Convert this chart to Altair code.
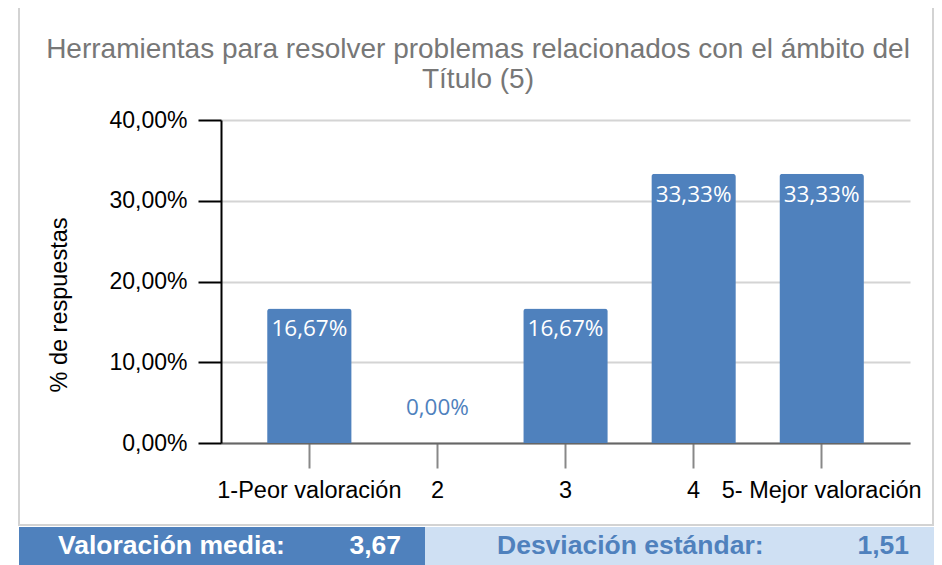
import altair as alt
import pandas as pd

# ---- data ----
categories = ["1-Peor valoración", "2", "3", "4", "5- Mejor valoración"]
values = [0.1667, 0.0, 0.1667, 0.3333, 0.3333]
title_lines = ["Herramientas para resolver problemas relacionados con el ámbito del", "Título (5)"]
y_title = "% de respuestas"
footer_names = ["Valoración media:", "Desviación estándar:"]
footer_values = ["3,67", "1,51"]

BLUE = "#4f81bd"
LIGHT = "#cfe0f3"
FONT = "Liberation Sans"
LABEL_FONT = "Open Sans"

labels = [f"{v*100:.2f}".replace(".", ",") + "%" for v in values]
df = pd.DataFrame({"cat": categories, "val": values, "label": labels})

PW, PH = 689, 323
OX, OY = 221, 120  # plot origin in page coords (incl. 8px margin)


def px(x):
    return x - OX


def py(y):
    return y - OY


one = pd.DataFrame({"k": [0]})

x_enc = alt.X(
    "cat:N",
    sort=categories,
    title=None,
    scale=alt.Scale(paddingInner=0.34, paddingOuter=0.36),
    axis=alt.Axis(
        labelAngle=0,
        labelFont=FONT,
        labelFontSize=23.5,
        labelColor="#000000",
        labelPadding=10,
        labelLimit=400,
        tickSize=25,
        tickColor="#888888",
        tickWidth=2,
        domainColor="#666666",
        domainWidth=2,
        grid=False,
        labelOverlap=False,
    ),
)
y_enc = alt.Y(
    "val:Q",
    title=None,
    scale=alt.Scale(domain=[0, 0.4], nice=False),
    axis=alt.Axis(
        values=[0, 0.1, 0.2, 0.3, 0.4],
        labelExpr="replace(format(datum.value, '.2%'), '.', ',')",
        labelFont=FONT,
        labelFontSize=23,
        labelColor="#000000",
        labelPadding=11,
        tickSize=23,
        tickColor="#000000",
        tickWidth=2,
        domainColor="#000000",
        domainWidth=2,
        gridColor="#d4d4d4",
        gridWidth=2,
    ),
)

base = alt.Chart(df)
bars = base.mark_bar(color=BLUE, cornerRadiusTopLeft=3, cornerRadiusTopRight=3).encode(x=x_enc, y=y_enc)
in_labels = base.transform_filter("datum.val > 0").mark_text(
    color="white", font=LABEL_FONT, fontSize=22.5, baseline="alphabetic", dy=28
).encode(x=alt.X("cat:N", sort=categories), y="val:Q", text="label:N")
zero_labels = base.transform_filter("datum.val == 0").mark_text(
    color=BLUE, font=LABEL_FONT, fontSize=22.5, baseline="alphabetic", dy=-28
).encode(x=alt.X("cat:N", sort=categories), y="val:Q", text="label:N")

frame = alt.Chart(one).mark_rect(fill=None, stroke="#d3d3d3", strokeWidth=2).encode(
    x=alt.value(px(19)), x2=alt.value(px(933)), y=alt.value(py(6)), y2=alt.value(py(525))
)
foot_dark = alt.Chart(one).mark_rect(fill=BLUE).encode(
    x=alt.value(px(19)), x2=alt.value(px(425)), y=alt.value(py(527)), y2=alt.value(py(570))
)
foot_light = alt.Chart(one).mark_rect(fill=LIGHT).encode(
    x=alt.value(px(425)), x2=alt.value(px(940)), y=alt.value(py(527)), y2=alt.value(py(570))
)

title = alt.Chart(one).mark_text(
    text="\n".join(title_lines), lineBreak="\n", lineHeight=30, font=FONT, fontSize=28,
    color="#777777", align="center", baseline="alphabetic"
).encode(x=alt.value(px(478)), y=alt.value(py(58)))

ytitle = alt.Chart(one).mark_text(
    text=y_title, font=FONT, fontSize=23.5, color="#000000", angle=270, align="center", baseline="middle"
).encode(x=alt.value(px(60)), y=alt.value(py(305)))

foot_style = dict(font=FONT, fontSize=26.5, fontWeight="bold", baseline="middle")
f1 = alt.Chart(one).mark_text(text=footer_names[0], color="white", align="left", **foot_style).encode(
    x=alt.value(px(58)), y=alt.value(py(546)))
f2 = alt.Chart(one).mark_text(text=footer_values[0], color="white", align="right", **foot_style).encode(
    x=alt.value(px(401)), y=alt.value(py(546)))
f3 = alt.Chart(one).mark_text(text=footer_names[1], color=BLUE, align="left", **foot_style).encode(
    x=alt.value(px(497)), y=alt.value(py(546)))
f4 = alt.Chart(one).mark_text(text=footer_values[1], color=BLUE, align="right", **foot_style).encode(
    x=alt.value(px(909)), y=alt.value(py(546)))

chart = alt.layer(
    frame, foot_dark, foot_light, bars, in_labels, zero_labels, title, ytitle, f1, f2, f3, f4
).properties(
    width=PW,
    height=PH,
    background="white",
    padding={"left": OX - 8, "top": OY - 8, "right": 926 - (OX - 8) - PW, "bottom": 557 - (OY - 8) - PH},
    autosize=alt.AutoSizeParams(type="none"),
).configure_view(stroke=None)

chart.save("out.html", embed_options={"renderer": "svg", "actions": False})
